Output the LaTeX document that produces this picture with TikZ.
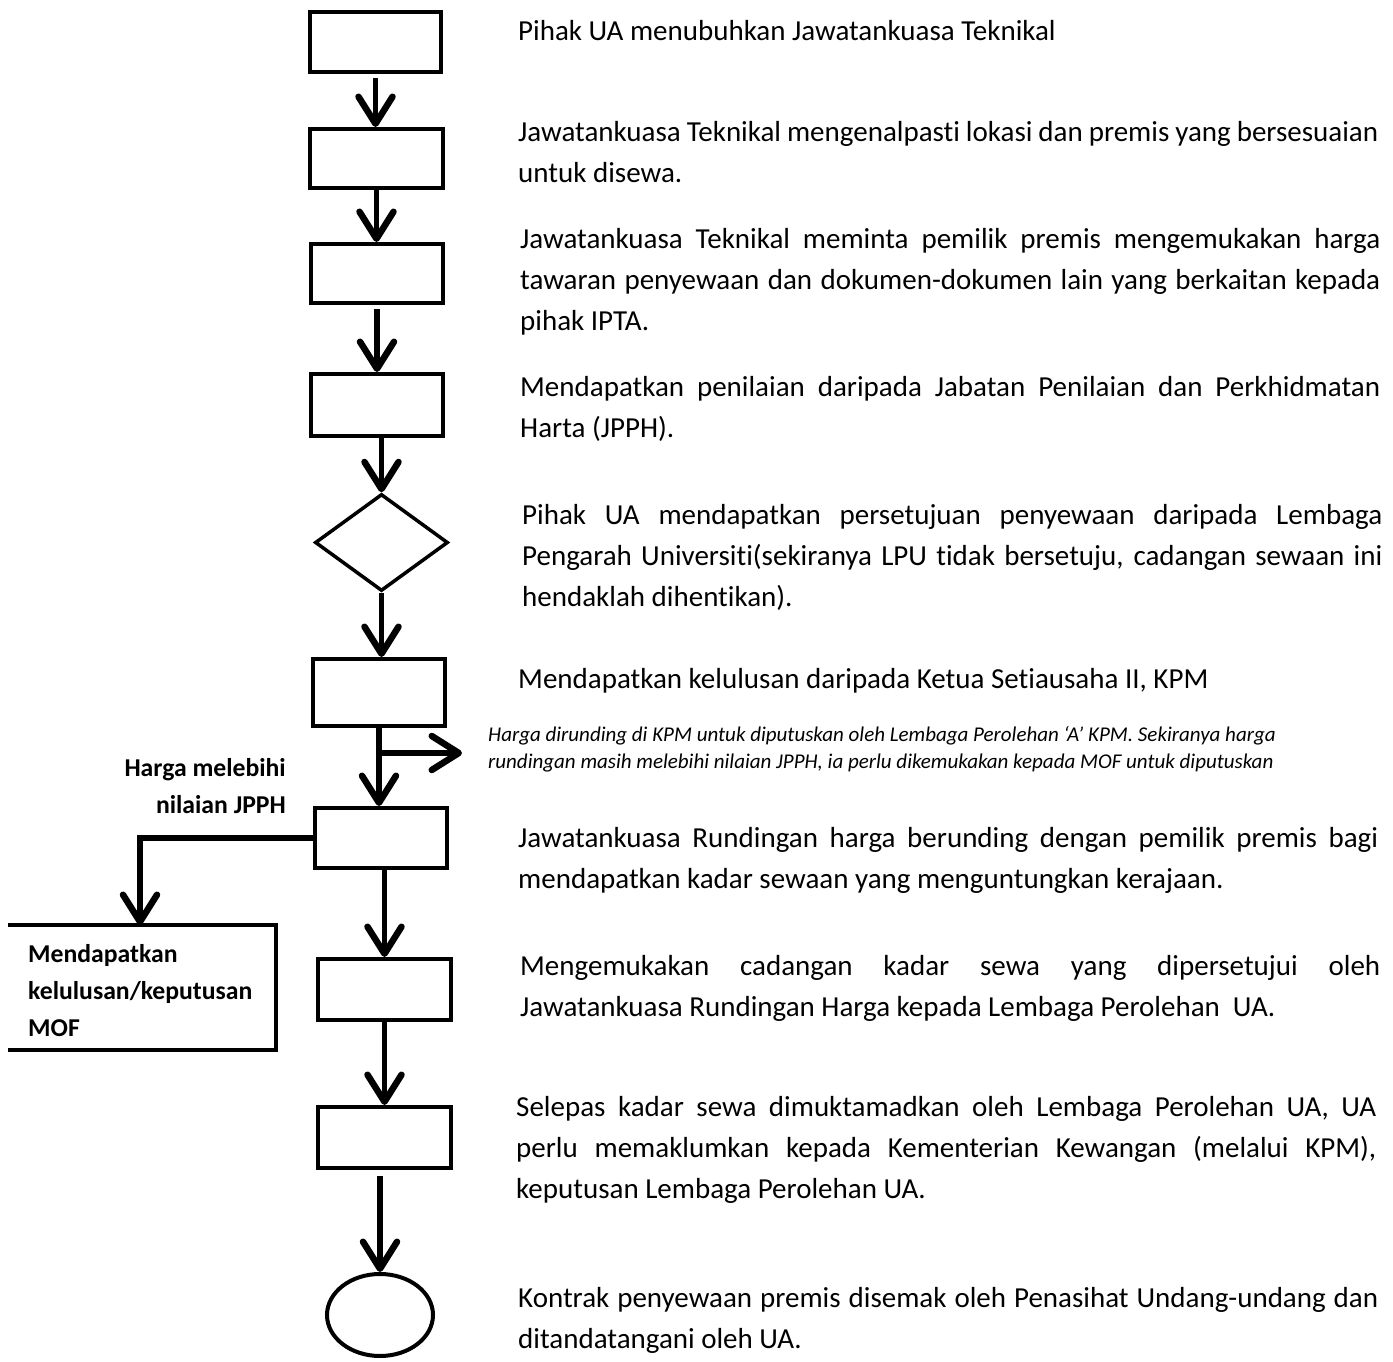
\documentclass[tikz,border=0pt]{standalone}
\usepackage{fontspec}
\setmainfont{Carlito}[Ligatures=NoCommon]
\usetikzlibrary{arrows.meta,shapes.geometric}
\hyphenpenalty=10000
\exhyphenpenalty=10000
\begin{document}
\begin{tikzpicture}[x=1pt,y=-1pt,
  box/.style={draw, line width=4pt, rectangle, inner sep=0pt, minimum width=132pt},
  flow/.style={line width=5.5pt, -{Straight Barb[length=27pt,width=34pt,line width=6.5pt,round]}},
  desc/.style={anchor=base west, inner sep=0pt, text width=860pt, align=justify,
    font=\fontsize{29}{41}\selectfont},
  note/.style={anchor=base west, inner sep=0pt, align=left,
    font=\fontsize{21}{27}\selectfont\itshape},
  boldlbl/.style={inner sep=0pt, font=\fontsize{25.7}{37}\selectfont\bfseries}
]
\useasboundingbox (0,0) rectangle (1393,1362);

% flow shapes
\node[box, minimum width=131pt, minimum height=60pt] (b1) at (375.5,42) {};
\node[box, minimum width=133pt, minimum height=59pt] (b2) at (376.5,158.5) {};
\node[box, minimum width=132pt, minimum height=59pt] (b3) at (377,273.5) {};
\node[box, minimum width=132pt, minimum height=62pt] (b4) at (377,405) {};
\node[draw, diamond, line width=3.5pt, inner sep=0pt, minimum width=133pt, minimum height=97pt] (d) at (381.5,542.5) {};
\node[box, minimum width=132pt, minimum height=67pt] (b6) at (379,692.5) {};
\node[box, minimum width=132pt, minimum height=60pt] (b7) at (381,838) {};
\node[box, minimum width=133pt, minimum height=61pt] (b8) at (384.5,989.5) {};
\node[box, minimum width=133pt, minimum height=61pt] (b9) at (384.5,1137.5) {};
\node[draw, ellipse, line width=4pt, inner sep=0pt, minimum width=106pt, minimum height=82pt] (e) at (380,1315) {};

% MOF box (open on the left)
\node[inner sep=0pt, minimum width=268pt, minimum height=125pt] (mof) at (142,987.5) {};
\draw[line width=4pt] (mof.north west) -- (mof.north east) -- (mof.south east) -- (mof.south west);
\node[boldlbl, anchor=west, align=left] (moft) at (28,991) {Mendapatkan\\kelulusan/keputusan\\MOF};
\node[boldlbl, anchor=east, align=right] (lbl) at (286,786.5) {Harga melebihi\\nilaian JPPH};

% connectors
\draw[flow, shorten <=4pt] (b1.south) -- (b1.south |- b2.north);
\draw[flow] (b2.south) -- (b2.south |- b3.north);
\draw[flow, shorten <=4pt] (b3.south) -- (b3.south |- b4.north);
\draw[flow] (b4.south -| d.north) -- (d.north);
\draw[flow] (d.south) -- (d.south |- b6.north);
\draw[flow] (b6.south) -- (b6.south |- b7.north);
\coordinate (j) at (379,753);
\coordinate (jr) at (462,753);
\draw[flow] (j) -- (jr);
\coordinate (mt) at (140,925);
\draw[flow] (b7.west) -| (mt);
\draw[flow] (b7.south -| b8.north) -- (b8.north);
\draw[flow] (b8.south) -- (b8.south |- b9.north);
\draw[flow, shorten <=6pt] (b9.south -| e.north) -- (e.north);

% descriptions
\node[desc] (t1) at (518,41) {Pihak UA menubuhkan Jawatankuasa Teknikal};
\node[desc] (t2) at (518,142) {\makebox[860pt][s]{Jawatankuasa Teknikal mengenalpasti lokasi dan premis yang bersesuaian}\\untuk disewa.};
\node[desc] (t3) at (520,248) {Jawatankuasa Teknikal meminta pemilik premis mengemukakan harga\linebreak tawaran penyewaan dan dokumen-dokumen lain yang berkaitan kepada\linebreak pihak IPTA.};
\node[desc] (t4) at (520,396) {Mendapatkan penilaian daripada Jabatan Penilaian dan Perkhidmatan\linebreak Harta (JPPH).};
\node[desc] (t5) at (522,524) {Pihak UA mendapatkan persetujuan penyewaan daripada Lembaga\linebreak Pengarah Universiti(sekiranya LPU tidak bersetuju, cadangan sewaan ini\linebreak hendaklah dihentikan).};
\node[desc] (t6) at (518,688) {Mendapatkan kelulusan daripada Ketua Setiausaha II, KPM};
\node[note] (t7) at (488,768) {Harga dirunding di KPM untuk diputuskan oleh Lembaga Perolehan ‘A’ KPM. Sekiranya harga\\rundingan masih melebihi nilaian JPPH, ia perlu dikemukakan kepada MOF untuk diputuskan};
\node[desc] (t8) at (518,847) {Jawatankuasa Rundingan harga berunding dengan pemilik premis bagi\linebreak mendapatkan kadar sewaan yang menguntungkan kerajaan.};
\node[desc] (t9) at (520,975) {Mengemukakan cadangan kadar sewa yang dipersetujui oleh\linebreak Jawatankuasa Rundingan Harga kepada Lembaga Perolehan~ UA.};
\node[desc] (t10) at (516,1116) {Selepas kadar sewa dimuktamadkan oleh Lembaga Perolehan UA, UA\linebreak perlu memaklumkan kepada Kementerian Kewangan (melalui KPM),\linebreak keputusan Lembaga Perolehan UA.};
\node[desc] (t11) at (518,1307) {Kontrak penyewaan premis disemak oleh Penasihat Undang-undang dan\linebreak ditandatangani oleh UA.};
\end{tikzpicture}
\end{document}
